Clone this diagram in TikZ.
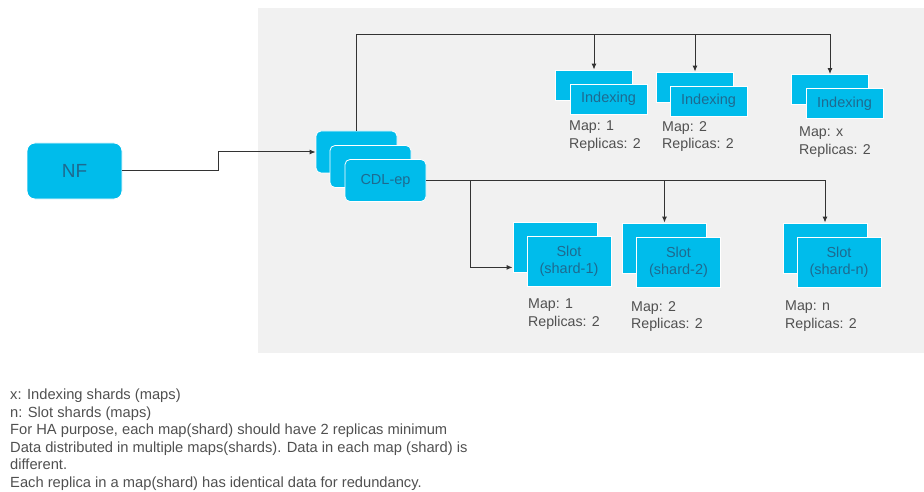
\documentclass[tikz,border=0pt]{standalone}
\usepackage{fontspec}
\setmainfont{Liberation Sans}
\usetikzlibrary{arrows.meta}
\definecolor{ciscoblue}{HTML}{00BCEB}
\definecolor{boxtext}{HTML}{1E6A90}
\definecolor{paneback}{HTML}{F1F1F1}
\definecolor{wiregray}{HTML}{333333}
\definecolor{notegray}{HTML}{505050}
\tikzset{
	blk/.style={fill=ciscoblue, draw=white, line width=0.8pt, inner sep=0pt, text=boxtext, align=center},
	idxbox/.style={blk, minimum width=77pt, minimum height=30pt, font=\fontsize{14.5}{15}\selectfont},
	slotbox/.style={blk, minimum width=84pt, minimum height=50pt, font=\fontsize{14.5}{16.5}\selectfont},
	cdlbox/.style={blk, rounded corners=5pt, minimum width=81pt, minimum height=42pt, font=\fontsize{14.5}{15}\selectfont},
	lbl/.style={anchor=north west, inner sep=0pt, align=left, text=notegray, font=\fontsize{14.2}{17.5}\selectfont},
	note/.style={lbl, font=\fontsize{14.7}{17.5}\selectfont},
	wire/.style={draw=wiregray, line width=1pt},
	arr/.style={wire, -{Latex[length=6pt,width=5pt]}}
}
\begin{document}
\begin{tikzpicture}[x=1pt, y=-1pt]
	\useasboundingbox (0,0) rectangle (924,492);
	\fill[paneback] (258,8) rectangle (924,353);

	\node[blk, rounded corners=8pt, minimum width=95pt, minimum height=56pt, font=\fontsize{19}{20}\selectfont] (nf) at (74.5,171) {NF};

	\node[cdlbox] (cdlA) at (356.5,152) {};
	\node[cdlbox] (cdlB) at (370.5,166.5) {};
	\node[cdlbox] (cdlC) at (385.5,180.5) {CDL-ep};

	\node[idxbox] (idx1b) at (594,85) {};
	\node[idxbox] (idx1) at (608.5,99) {Indexing};
	\node[idxbox] (idx2b) at (695,87) {};
	\node[idxbox] (idx2) at (708.5,101) {Indexing};
	\node[idxbox] (idx3b) at (830,89.5) {};
	\node[idxbox] (idx3) at (844.5,103.5) {Indexing};

	\node[slotbox] (slot1b) at (555,247) {};
	\node[slotbox] (slot1) at (569,261) {Slot\\(shard-1)};
	\node[slotbox] (slot2b) at (664.5,248) {};
	\node[slotbox] (slot2) at (678.5,262) {Slot\\(shard-2)};
	\node[slotbox] (slotnb) at (825,248) {};
	\node[slotbox] (slotn) at (839,262) {Slot\\(shard-n)};

	\node[lbl] (map1) at (569,121) {Map: 1\\Replicas: 2};
	\node[lbl] (map2) at (662,121) {Map: 2\\Replicas: 2};
	\node[lbl] (mapx) at (799,127) {Map: x\\Replicas: 2};
	\node[lbl] (smap1) at (528,299) {Map: 1\\Replicas: 2};
	\node[lbl] (smap2) at (631,301) {Map: 2\\Replicas: 2};
	\node[lbl] (smapn) at (785,301) {Map: n\\Replicas: 2};

	\node[note] (legend) at (10,389) {x: Indexing shards (maps)\\
		n: Slot shards (maps)\\
		For HA purpose, each map(shard) should have 2 replicas minimum\\
		Data distributed in multiple maps(shards). Data in each map (shard) is\\
		different.\\
		Each replica in a map(shard) has identical data for redundancy.};

	\coordinate (topbus) at (357,35);
	\coordinate (lowtap) at (470,181);
	\coordinate (slot1in) at ([yshift=5pt]slot1b.south west);

	\draw[arr] (nf.east) -- ++(96,0) |- (cdlA.west);

	\draw[arr] (cdlA.north) -- (cdlA.north |- topbus) -| (idx3b.north);
	\draw[arr] (idx1b.north |- topbus) -- (idx1b.north);
	\draw[arr] (idx2b.north |- topbus) -- (idx2b.north);

	\draw[arr] (cdlC.east) -| (slotnb.north);
	\draw[arr] (slot2b.north |- cdlC.east) -- (slot2b.north);
	\draw[arr] (lowtap) |- (slot1in);
\end{tikzpicture}
\end{document}
